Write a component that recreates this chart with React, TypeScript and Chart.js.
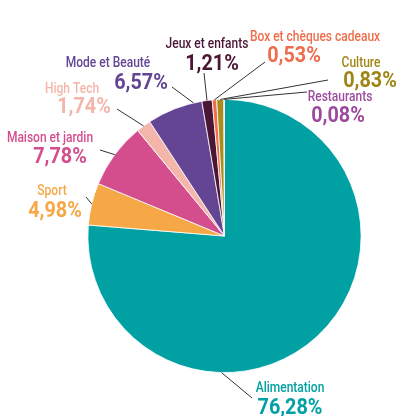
import React, { useEffect, useRef } from "react";
import { Chart, registerables } from "chart.js";

Chart.register(...registerables);

// ---- data ----
const categories = [
  "Alimentation",
  "Sport",
  "Maison et jardin",
  "High Tech",
  "Mode et Beauté",
  "Jeux et enfants",
  "Box et chèques cadeaux",
  "Culture",
  "Restaurants",
];
const shares = [76.28, 4.98, 7.78, 1.74, 6.57, 1.21, 0.53, 0.83, 0.08];
const valueLabels = ["76,28%", "4,98%", "7,78%", "1,74%", "6,57%", "1,21%", "0,53%", "0,83%", "0,08%"];

// ---- styles ----
const sliceColors = [
  "#00A0A3",
  "#F6A847",
  "#D44E8E",
  "#F4B6AA",
  "#644594",
  "#4B1535",
  "#EF6D4C",
  "#A98D1C",
  "#A04AA0",
];
const textColors = [
  "#00A0A3",
  "#F6A847",
  "#D44E8E",
  "#F4B6AA",
  "#644594",
  "#4B1535",
  "#EF6D4C",
  "#A08516",
  "#9C4A9E",
];

// label layout: name centre, value centre, leader end point, fraction of slice where the leader starts
const labelLayout = [
  { nx: 290, ny: 388, vx: 290, vy: 408, lx: 252, ly: 398, t: 0.66 },
  { nx: 52, ny: 191, vx: 55, vy: 211, lx: 86, ly: 197, t: 0.5 },
  { nx: 50, ny: 138, vx: 60, vy: 157, lx: 100, ly: 150, t: 0.5 },
  { nx: 72, ny: 89, vx: 84, vy: 107, lx: 117, ly: 109, t: 0.5 },
  { nx: 108, ny: 63, vx: 141, vy: 83, lx: 172, ly: 87, t: 0.85 },
  { nx: 207, ny: 44, vx: 212, vy: 64, lx: 204, ly: 73, t: 0.5 },
  { nx: 315, ny: 37, vx: 294, vy: 56, lx: 265, ly: 62, t: 0.5 },
  { nx: 361, ny: 63, vx: 370, vy: 81, lx: 328, ly: 80, t: 0.5 },
  { nx: 340, ny: 97, vx: 338, vy: 116, lx: 307, ly: 92, t: 0.5 },
];

const FONT = 'Roboto, "Noto Sans", sans-serif';
const NAME_SQUEEZE = 0.8;
const VALUE_SQUEEZE = 0.9;

function drawCondensed(ctx: CanvasRenderingContext2D, text: string, cx: number, cy: number, sq: number) {
  ctx.save();
  ctx.translate(cx, cy);
  ctx.scale(sq, 1);
  ctx.fillText(text, 0, 0);
  ctx.restore();
}

const labelPlugin = {
  id: "pieLabels",
  afterDatasetsDraw(chart: any) {
    const ctx = chart.ctx as CanvasRenderingContext2D;
    const meta = chart.getDatasetMeta(0);
    ctx.save();
    meta.data.forEach((arc: any, i: number) => {
      const L = labelLayout[i];
      if (!L) return;
      const p = arc.getProps(["x", "y", "startAngle", "endAngle", "outerRadius"], true);
      const a = p.startAngle + L.t * (p.endAngle - p.startAngle);
      const sx = p.x + Math.cos(a) * p.outerRadius;
      const sy = p.y + Math.sin(a) * p.outerRadius;
      ctx.beginPath();
      ctx.strokeStyle = "#333333";
      ctx.lineWidth = 1;
      ctx.moveTo(sx, sy);
      ctx.lineTo(L.lx, L.ly);
      ctx.stroke();

      ctx.fillStyle = textColors[i];
      ctx.textAlign = "center";
      ctx.textBaseline = "middle";
      ctx.font = `500 15px ${FONT}`;
      drawCondensed(ctx, categories[i], L.nx, L.ny, NAME_SQUEEZE);
      ctx.font = `bold 22px ${FONT}`;
      drawCondensed(ctx, valueLabels[i], L.vx, L.vy, VALUE_SQUEEZE);
    });
    ctx.restore();
  },
};

export default function App() {
  const ref = useRef<HTMLCanvasElement | null>(null);
  useEffect(() => {
    if (!ref.current) return;
    const chart = new Chart(ref.current, {
      type: "pie",
      data: {
        labels: categories,
        datasets: [
          {
            data: shares,
            backgroundColor: sliceColors,
            borderColor: "#ffffff",
            borderWidth: 0.8,
          },
        ],
      },
      options: {
        animation: false,
        responsive: true,
        maintainAspectRatio: false,
        layout: { padding: { left: 87.5, right: 37.5, top: 99, bottom: 43 } },
        plugins: {
          legend: { display: false },
          tooltip: { enabled: false },
        },
      },
      plugins: [labelPlugin],
    });
    return () => chart.destroy();
  }, []);
  return (
    <div style={{ position: "absolute", left: 0, top: 0, width: 399, height: 416, background: "#fff" }}>
      <canvas ref={ref} />
    </div>
  );
}
